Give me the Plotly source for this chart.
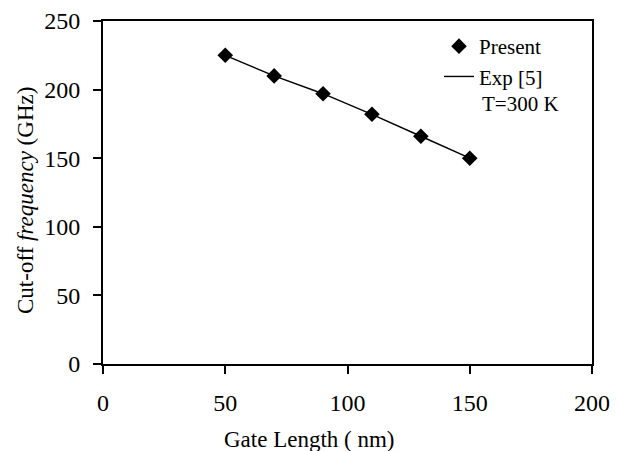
import plotly.graph_objects as go

gate_length = [50, 70, 90, 110, 130, 150]
present_fT = [225, 210, 197, 182, 166, 150]
exp_fT = [225, 210, 197, 182, 166, 150]
x_ticks = [0, 50, 100, 150, 200]
y_ticks = [0, 50, 100, 150, 200, 250]

FONT = "Liberation Serif"
OFF = 8  # page body margin
W, H = 619 - OFF, 451 - OFF
# plot area in page pixels -> figure pixels
L, R, T, B = 103 - OFF, 592 - OFF, 21 - OFF, 364 - OFF
PW, PH = R - L, B - T

def px(x):
    return (x - OFF - L) / PW

def py(y):
    return 1 - (y - OFF - T) / PH

fig = go.Figure()
fig.add_trace(go.Scatter(x=gate_length, y=present_fT, mode="markers", name="Present",
                         marker=dict(symbol="diamond", size=12, color="black")))
fig.add_trace(go.Scatter(x=gate_length, y=exp_fT, mode="lines", name="Exp [5]",
                         line=dict(color="black", width=1.4)))

fig.update_layout(
    width=W, height=H,
    margin=dict(l=L, r=W - R, t=T, b=H - B),
    paper_bgcolor="white", plot_bgcolor="white",
    font=dict(family=FONT, color="black", size=21),
    showlegend=True,
    legend=dict(x=px(439), y=py(26), xanchor="left", yanchor="top", bgcolor="rgba(0,0,0,0)",
                font=dict(size=21, family=FONT), tracegroupgap=0, itemwidth=30),
    xaxis=dict(range=[0, 200], tickvals=x_ticks, showgrid=False, zeroline=False, automargin=False,
               showline=True, linecolor="black", linewidth=2, mirror=True,
               ticks="outside", ticklen=8, tickcolor="black", tickwidth=1.5,
               tickfont=dict(size=24, family=FONT), ticklabelstandoff=8),
    yaxis=dict(range=[0, 250], tickvals=y_ticks, showgrid=False, zeroline=False, automargin=False,
               showline=True, linecolor="black", linewidth=2, mirror=True,
               ticks="outside", ticklen=8, tickcolor="black", tickwidth=1.5,
               tickfont=dict(size=24, family=FONT), ticklabelstandoff=8),
)
fig.add_annotation(text="T=300 K", xref="paper", yref="paper", x=px(480), y=py(104),
                   xanchor="left", yanchor="middle", showarrow=False, font=dict(size=21, family=FONT))
fig.add_annotation(text="Gate Length ( nm)", xref="paper", yref="paper", x=px(309), y=py(439),
                   xanchor="center", yanchor="middle", showarrow=False, font=dict(size=23, family=FONT))
fig.add_annotation(text="Cut-off <i>frequency</i> (GHz)", xref="paper", yref="paper", x=px(26), y=py(201),
                   xanchor="center", yanchor="middle", textangle=-90, showarrow=False,
                   font=dict(size=23, family=FONT))

fig.write_html("out.html")
